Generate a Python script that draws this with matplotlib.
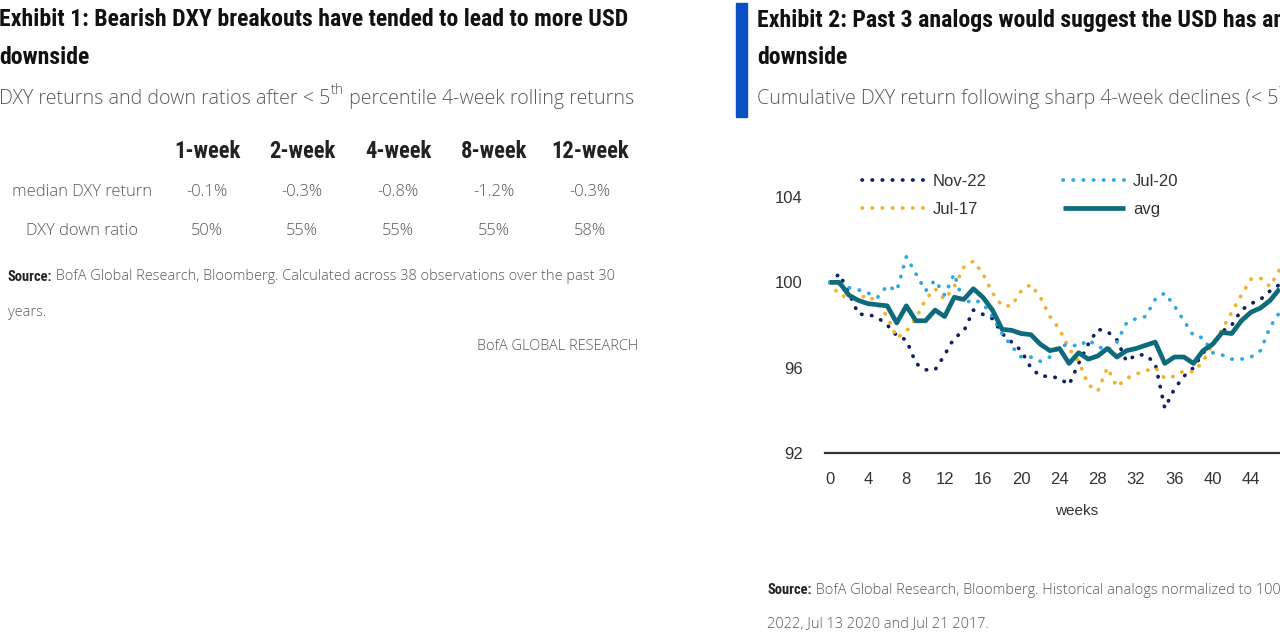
import matplotlib
matplotlib.use("Agg")
import matplotlib.pyplot as plt
from matplotlib import font_manager
from matplotlib.font_manager import FontProperties

# ---- data: table (left exhibit)
horizons = ["1-week", "2-week", "4-week", "8-week", "12-week"]
row_names = ["median DXY return", "DXY down ratio"]
median_ret = ["-0.1%", "-0.3%", "-0.8%", "-1.2%", "-0.3%"]
down_ratio = ["50%", "55%", "55%", "55%", "58%"]

# ---- data: analogs (right exhibit), weekly
weeks = list(range(0, 48))
nov22 = [100.0, 100.4, 99.5, 98.5, 98.5, 98.35, 98.0, 97.5, 97.3, 96.2,
         95.9, 95.9, 96.6, 97.4, 97.7, 98.7, 98.5, 98.3, 97.6, 97.2,
         96.8, 96.0, 95.6, 95.6, 95.5, 95.2, 96.2, 97.1, 97.8, 97.7,
         97.3, 96.3, 96.6, 96.6, 96.2, 94.1, 95.0, 95.6, 96.0, 96.7,
         97.1, 97.7, 98.0, 98.7, 99.0, 99.2, 99.6, 99.9]
jul20 = [100.0, 99.9, 99.75, 99.65, 99.5, 99.3, 99.85, 99.6, 101.2, 100.4,
         99.6, 100.1, 99.4, 100.4, 99.0, 99.2, 99.0, 98.4, 97.6, 97.0,
         96.5, 96.5, 96.3, 96.5, 97.0, 97.1, 97.0, 97.3, 97.0, 96.8,
         97.2, 98.1, 98.3, 98.4, 99.2, 99.5, 98.9, 98.2, 97.5, 97.4,
         96.7, 96.6, 96.4, 96.4, 96.5, 96.8, 97.9, 98.6]
jul17 = [100.0, 99.4, 99.3, 99.25, 99.4, 99.0, 98.4, 97.4, 97.7, 98.3,
         99.2, 99.7, 99.2, 99.8, 100.7, 101.0, 100.4, 99.5, 98.9, 98.9,
         99.6, 99.9, 99.3, 98.4, 97.8, 96.9, 96.3, 95.2, 94.9, 96.0,
         95.1, 95.5, 95.7, 95.85, 96.0, 95.5, 95.6, 95.85, 95.8, 96.3,
         97.1, 97.8, 98.6, 99.4, 100.15, 100.2, 99.8, 100.6]
avg = [100.0, 100.0, 99.4, 99.15, 99.0, 98.95, 98.9, 98.1, 98.9, 98.2,
       98.2, 98.7, 98.4, 99.3, 99.2, 99.7, 99.3, 98.7, 97.8, 97.75,
       97.6, 97.55, 97.1, 96.8, 96.9, 96.2, 96.7, 96.4, 96.55, 96.9,
       96.5, 96.8, 96.9, 97.05, 97.2, 96.2, 96.5, 96.5, 96.2, 96.8,
       97.1, 97.65, 97.6, 98.2, 98.6, 98.8, 99.15, 99.7]


def find_font(options):
    # first (name, stretch, weight) that exists, weight within 100
    for name, stretch, weight in options:
        cands = [f for f in font_manager.fontManager.ttflist
                 if f.name == name and f.stretch == stretch
                 and abs(int(f.weight) - weight) <= 100]
        if cands:
            return min(cands, key=lambda f: abs(int(f.weight) - weight)).fname
    return None


BOLD_FILE = find_font([("Open Sans", "condensed", 700), ("Roboto Condensed", "normal", 700),
                       ("Roboto Condensed", "condensed", 700),
                       ("IBM Plex Sans Condensed", "condensed", 700)])
LIGHT_FILE = find_font([("Open Sans", "normal", 300), ("Open Sans", "normal", 400)])


def fp(kind, size):
    f = BOLD_FILE if kind == "bold" else LIGHT_FILE
    if f is None:
        return FontProperties(family="Liberation Sans", size=size,
                              weight="bold" if kind == "bold" else "normal")
    return FontProperties(fname=f, size=size)


ARIAL = ["Liberation Sans", "DejaVu Sans"]
W, H = 1280, 640

fig = plt.figure(figsize=(12.8, 6.4), dpi=100)
fig.patch.set_facecolor("white")
renderer = fig.canvas.get_renderer()


def px(x, y):
    return x / W, 1 - y / H


def width_of(s, kind, size):
    t = fig.text(0, 0, s, fontproperties=fp(kind, size))
    w = t.get_window_extent(renderer).width
    t.remove()
    return w


def fit(parts, target):
    # font size so that the runs together span `target` pixels
    w = sum(width_of(s, k, 10 * r) for s, k, _, r, _ in parts)
    return 10 * target / w


def runs(x, y, parts, size):
    """parts: (text, kind, color, size ratio, dy)"""
    for s, kind, color, r, dy in parts:
        t = fig.text(*px(x, y + dy), s, fontproperties=fp(kind, size * r), color=color,
                     va="center", ha="left")
        x += t.get_window_extent(renderer).width


GREY = "#595959"

# ---------------- left exhibit ----------------
title1 = [("Exhibit 1: Bearish DXY breakouts have tended to lead to more USD", "bold", "#111111", 1, 0)]
ts = fit(title1, 628)
runs(-1, 20, title1, ts)
runs(-1, 57, [("downside", "bold", "#111111", 1, 0)], ts)

sub1 = [("DXY returns and down ratios after < 5", "light", GREY, 1, 0),
        ("th", "light", GREY, 0.72, -8),
        (" percentile 4-week rolling returns", "light", GREY, 1, 0)]
ss = fit(sub1, 635)
runs(-1, 99, sub1, ss)

col_x = [207, 302, 398, 494, 590]
hs = fit([("12-week", "bold", "", 1, 0)], 78)
for cx, h in zip(col_x, horizons):
    fig.text(*px(cx, 152), h, fontproperties=fp("bold", hs), color="#222222",
             ha="center", va="center")
rs = fit([("median DXY return", "light", "", 1, 0)], 140)
for ry, name, vals in zip([192, 231], row_names, [median_ret, down_ratio]):
    fig.text(*px(82, ry), name, fontproperties=fp("light", rs), color=GREY,
             ha="center", va="center")
    for cx, v in zip(col_x, vals):
        fig.text(*px(cx, ry), v, fontproperties=fp("light", rs), color=GREY,
                 ha="center", va="center")

src1 = [("Source:", "bold", "#222222", 1, 0),
        (" BofA Global Research, Bloomberg. Calculated across 38 observations over the past 30",
         "light", GREY, 1, 0)]
fs = fit(src1, 604)
runs(8, 277, src1, fs)
runs(8, 312, [("years.", "light", GREY, 1, 0)], fs)
fig.text(*px(638, 346), "BofA GLOBAL RESEARCH", fontproperties=fp("light", fs),
         color=GREY, ha="right", va="center")

# ---------------- right exhibit ----------------
fig.patches.append(plt.Rectangle(px(736, 117), 11 / W, 114 / H, transform=fig.transFigure,
                                 color="#0a4fc4", zorder=5))
runs(757, 20, [("Exhibit 2: Past 3 analogs would suggest the USD has another leg of",
                "bold", "#111111", 1, 0)], ts)
runs(757, 57, [("downside", "bold", "#111111", 1, 0)], ts)
runs(757, 99, [("Cumulative DXY return following sharp 4-week declines (< 5", "light", GREY, 1, 0),
               ("th", "light", GREY, 0.72, -8),
               (" percentile)", "light", GREY, 1, 0)], ss)

ax = fig.add_axes([825 / W, 1 - 453 / H, (1327.5 - 825) / W, (453 - 154.4) / H])
ax.set_xlim(-0.5, 52)
ax.set_ylim(92, 106)

dots = (0, (0.1, 2.6))
ax.plot(weeks, nov22, color="#102060", lw=2.7, ls=dots, dash_capstyle="round", label="Nov-22")
ax.plot(weeks, jul17, color="#f2b12c", lw=2.7, ls=dots, dash_capstyle="round", label="Jul-17")
ax.plot(weeks, jul20, color="#33a8de", lw=2.7, ls=dots, dash_capstyle="round", label="Jul-20")
ax.plot(weeks, avg, color="#0e6b7b", lw=3.4, label="avg", solid_capstyle="butt")

ax.set_yticks([92, 96, 100, 104])
ax.set_xticks(range(0, 53, 4))
ax.tick_params(axis="both", length=0, labelsize=12, labelcolor="#333333")
ax.tick_params(axis="y", pad=16)
ax.tick_params(axis="x", pad=14)
for lab in ax.get_xticklabels() + ax.get_yticklabels():
    lab.set_family(ARIAL)
for s in ["top", "right", "left"]:
    ax.spines[s].set_visible(False)
ax.spines["bottom"].set_color("#333333")
ax.spines["bottom"].set_linewidth(1.6)
ax.set_xlabel("weeks", fontsize=11, color="#333333", family=ARIAL, labelpad=12)
ax.patch.set_alpha(0)

leg = ax.legend(ncol=2, loc="upper left", bbox_to_anchor=px(854, 166),
                bbox_transform=fig.transFigure, frameon=False, borderpad=0,
                handlelength=3.7, handletextpad=0.5, columnspacing=4.6,
                labelspacing=0.75, prop={"family": ARIAL, "size": 12})
for t in leg.get_texts():
    t.set_color("#333333")

runs(767, 590, [("Source:", "bold", "#222222", 1, 0),
                (" BofA Global Research, Bloomberg. Historical analogs normalized to 100 at",
                 "light", GREY, 1, 0)], fs)
runs(767, 625, [("2022, Jul 13 2020 and Jul 21 2017.", "light", GREY, 1, 0)], fs)

fig.savefig("out.png", dpi=100)
